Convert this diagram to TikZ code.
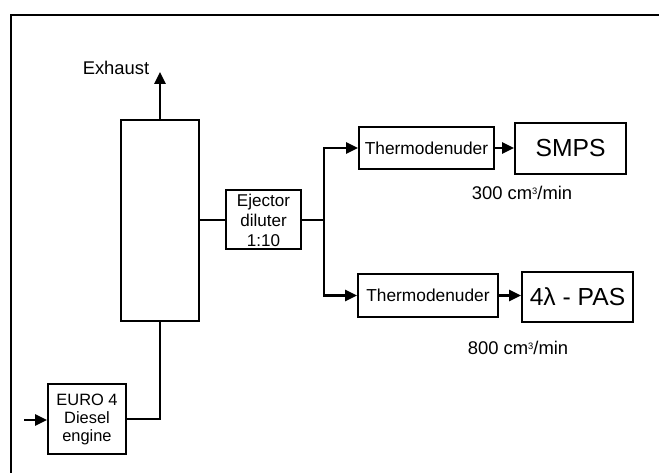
\documentclass[tikz,border=0pt]{standalone}
\usepackage{fontspec}
\setmainfont{Liberation Sans}
\usetikzlibrary{arrows.meta}
\newcommand{\cubed}{\raisebox{0.55ex}{\fontsize{7}{8}\selectfont 3}}
\begin{document}
\begin{tikzpicture}[x=0.75pt,y=-0.75pt,
  blk/.style={draw,line width=1.5pt,inner sep=0pt,align=center,font=\fontsize{13}{15}\selectfont},
  conn/.style={line width=1.6pt},
  arr/.style={line width=1.6pt,-{Triangle[length=9pt,width=8.5pt]}},
  lbl/.style={inner sep=0pt,font=\fontsize{13.8}{16}\selectfont}]
\useasboundingbox (0,0) rectangle (659,473);
% frame
\draw[line width=2pt] (11,473) -- (11,15) -- (659,15);
% nodes
\node[blk,minimum width=58.5pt,minimum height=150.75pt] (col) at (160,220.5) {};
\node[blk,minimum width=58.5pt,minimum height=52.5pt,font=\fontsize{12.3}{13.5}\selectfont] (eng) at (87,419) {EURO 4\\Diesel\\engine};
\node[blk,minimum width=56.25pt,minimum height=44.25pt,font=\fontsize{12.8}{15}\selectfont] (ej) at (263.5,220) {Ejector\\diluter\\1:10};
\node[blk,minimum width=101.25pt,minimum height=31.5pt] (th1) at (426.5,148) {Thermodenuder};
\node[blk,minimum width=83.25pt,minimum height=38.25pt,font=\fontsize{18.5}{20}\selectfont] (smps) at (570.5,148.5) {SMPS};
\node[blk,minimum width=105pt,minimum height=32.25pt] (th2) at (428,295.5) {Thermodenuder};
\node[blk,minimum width=83.25pt,minimum height=37.5pt,font=\fontsize{18.5}{20}\selectfont] (pas) at (577.5,297) {4λ - PAS};
\node[lbl] (exh) at (116,68) {Exhaust};
\node[lbl] (f1) at (522,193) {300 cm\cubed/min};
\node[lbl] (f2) at (518,348) {800 cm\cubed/min};
\coordinate (extip) at (160,72);
\coordinate (in) at (24,420);
\coordinate (br) at (324,220);
% connectors
\draw[arr] (col.north) -- (extip);
\draw[arr] (in) -- (in -| eng.west);
\draw[conn] (eng.east) -| (col.south);
\draw[conn] (col.east |- ej.west) -- (ej.west);
\draw[conn] (ej.east) -- (br);
\draw[arr] (br) |- (th1.west);
\draw[arr] (br) |- (th2.west);
\draw[arr] (th1.east) -- (smps.west |- th1.east);
\draw[arr] (th2.east) -- (pas.west |- th2.east);
\end{tikzpicture}
\end{document}
